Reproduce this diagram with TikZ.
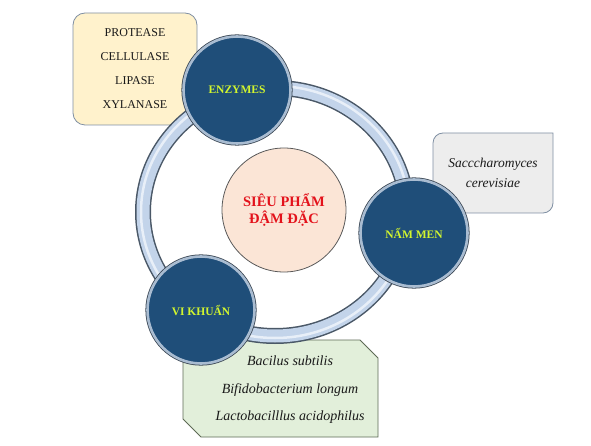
\documentclass[tikz,border=0pt]{standalone}
\usepackage{fontspec}
\setmainfont{Liberation Serif}
\usepackage{tikz}
\definecolor{navy_node}{HTML}{1F4E79}
\definecolor{rim_blue}{HTML}{A9BCD1}
\definecolor{rim_dark}{HTML}{3B4754}
\definecolor{lime_text}{HTML}{D2F52E}
\definecolor{core_fill}{HTML}{FBE5D6}
\definecolor{core_red}{HTML}{E3121B}
\definecolor{ring_blue}{HTML}{C3D4EA}
\definecolor{ring_dark}{HTML}{4A5867}
\definecolor{ring_light}{HTML}{E8EFF8}
\definecolor{enz_fill}{HTML}{FFF2CC}
\definecolor{yeast_fill}{HTML}{EDEDED}
\definecolor{bact_fill}{HTML}{E2EFDA}
\definecolor{box_line}{HTML}{7F8FA3}
\definecolor{bact_line}{HTML}{5E6A55}

\begin{document}
\begin{tikzpicture}[x=1pt,y=-1pt,
    pillar/.style={circle,minimum size=107pt,inner sep=0pt,fill=navy_node,
        draw=rim_blue,line width=2.6pt,preaction={draw=rim_dark,line width=4.2pt},
        text=lime_text,font=\fontsize{11.5}{13}\selectfont\bfseries},
    listtext/.style={align=center,text=black!90}]

    \useasboundingbox (0,0) rectangle (591,446);

    % boxes behind everything
    \node[draw=box_line,fill=enz_fill,line width=0.8pt,rounded corners=12pt,
        minimum width=124pt,minimum height=112pt,listtext,
        font=\fontsize{12}{24}\selectfont] (enzlist) at (135,69)
        {PROTEASE\\CELLULASE\\LIPASE\\XYLANASE};

    \draw[draw=box_line,fill=yeast_fill,line width=0.8pt]
        (433,213) -- (433,143) arc[start angle=180,end angle=270,radius=10]
        -- (553,133) -- (553,203) arc[start angle=0,end angle=90,radius=10]
        -- cycle;
    \node[listtext,font=\fontsize{13.5}{20}\selectfont\itshape] (yeastlist)
        at (493,173) {Sacccharomyces\\cerevisiae};

    \draw[draw=bact_line,fill=bact_fill,line width=0.8pt]
        (183,340) -- (360,340) -- (378,358) -- (378,437) -- (201,437)
        -- (183,419) -- cycle;
    \node[listtext,font=\fontsize{14}{27.5}\selectfont\itshape] (bactlist)
        at (290,390) {Bacilus subtilis\\Bifidobacterium longum\\Lactobacilllus acidophilus};

    % ring
    \draw[ring_dark,line width=16pt] (275,212) ellipse [x radius=132,y radius=124];
    \draw[ring_blue,line width=13pt] (275,212) ellipse [x radius=132,y radius=124];
    \draw[ring_light,line width=2.5pt] (275,212) ellipse [x radius=134,y radius=126];

    % centre
    \node[circle,minimum size=124pt,inner sep=0pt,fill=core_fill,draw=black!65,
        line width=0.8pt,align=center,text=core_red,
        font=\fontsize{14.5}{16.5}\selectfont\bfseries] (core) at (284,210)
        {SIÊU PHẨM\\ĐẬM ĐẶC};

    \node[pillar] (enzymes) at (237,90) {ENZYMES};
    \node[pillar] (yeast) at (414,233) {NẤM MEN};
    \node[pillar] (bacteria) at (201,310) {VI KHUẨN};

\end{tikzpicture}
\end{document}
